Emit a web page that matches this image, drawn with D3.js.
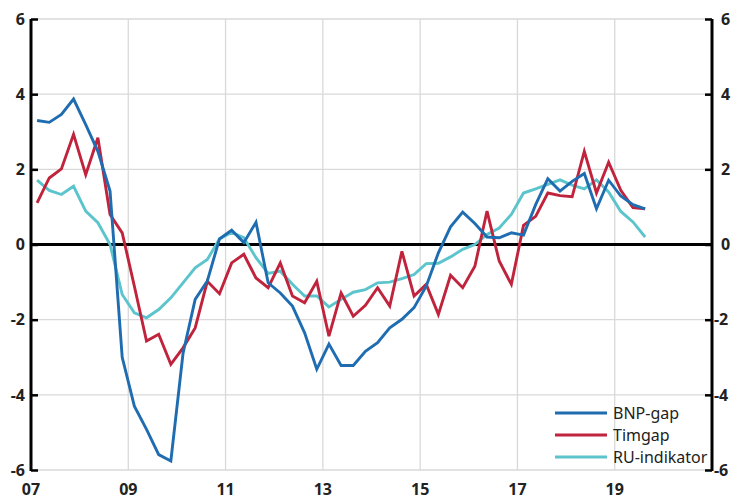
<!DOCTYPE html>
<html>
<head>
<meta charset="utf-8">
<script src="https://cdn.jsdelivr.net/npm/d3@7"></script>
<style>
  html, body { margin: 0; padding: 0; background: #fff; }
  svg { display: block; }
  text { font-family: "Noto Sans", "Open Sans", sans-serif; }
</style>
</head>
<body>
<svg id="chart" width="739" height="501"></svg>
<script>
// Quarterly categories 2007Q1 – 2019Q3
const quarters = [
  "2007Q1","2007Q2","2007Q3","2007Q4","2008Q1","2008Q2","2008Q3","2008Q4",
  "2009Q1","2009Q2","2009Q3","2009Q4","2010Q1","2010Q2","2010Q3","2010Q4",
  "2011Q1","2011Q2","2011Q3","2011Q4","2012Q1","2012Q2","2012Q3","2012Q4",
  "2013Q1","2013Q2","2013Q3","2013Q4","2014Q1","2014Q2","2014Q3","2014Q4",
  "2015Q1","2015Q2","2015Q3","2015Q4","2016Q1","2016Q2","2016Q3","2016Q4",
  "2017Q1","2017Q2","2017Q3","2017Q4","2018Q1","2018Q2","2018Q3","2018Q4",
  "2019Q1","2019Q2","2019Q3"
];

const bnpGap = [
  3.30, 3.25, 3.46, 3.87, 3.19, 2.48, 1.42, -3.00,
  -4.30, -4.92, -5.59, -5.76, -2.90, -1.46, -0.97, 0.15,
  0.38, 0.05, 0.59, -1.02, -1.29, -1.64, -2.35, -3.32,
  -2.65, -3.22, -3.22, -2.84, -2.61, -2.22, -1.99, -1.68,
  -1.11, -0.22, 0.47, 0.86, 0.56, 0.20, 0.18, 0.31,
  0.25, 1.06, 1.75, 1.42, 1.68, 1.89, 0.95, 1.71,
  1.29, 1.06, 0.95
];

const timgap = [
  1.11, 1.77, 2.01, 2.93, 1.86, 2.84, 0.80, 0.31,
  -1.11, -2.57, -2.39, -3.19, -2.75, -2.22, -0.98, -1.31,
  -0.49, -0.26, -0.89, -1.15, -0.49, -1.37, -1.55, -0.98,
  -2.44, -1.29, -1.91, -1.62, -1.15, -1.64, -0.18, -1.37,
  -1.06, -1.86, -0.82, -1.15, -0.58, 0.89, -0.44, -1.06,
  0.51, 0.75, 1.37, 1.30, 1.27, 2.48, 1.37, 2.19,
  1.44, 0.98, 0.95
];

const ruIndikator = [
  1.71, 1.44, 1.33, 1.55, 0.89, 0.58, 0.00, -1.33,
  -1.82, -1.95, -1.73, -1.42, -1.02, -0.62, -0.40, 0.15,
  0.32, 0.18, -0.35, -0.77, -0.71, -1.06, -1.37, -1.37,
  -1.66, -1.46, -1.27, -1.20, -1.02, -1.00, -0.91, -0.80,
  -0.51, -0.50, -0.33, -0.13, 0.00, 0.27, 0.44, 0.80,
  1.37, 1.48, 1.60, 1.72, 1.58, 1.48, 1.72, 1.40,
  0.88, 0.60, 0.20
];

const seriesNames = ["BNP-gap", "Timgap", "RU-indikator"];
const seriesColors = ["#1f6db0", "#c0233c", "#5cc4cc"];
const xTickYears = [2007, 2009, 2011, 2013, 2015, 2017, 2019];
const xTickLabels = ["07", "09", "11", "13", "15", "17", "19"];
const yTicks = [-6, -4, -2, 0, 2, 4, 6];

// ---- layout ----
const svg = d3.select("#chart");
const pL = 31, pR = 712, pT = 19, pB = 470;

const x = d3.scaleLinear().domain([2007, 2021]).range([pL, pR]);
const y = d3.scaleLinear().domain([-6, 6]).range([pB, pT]);

// quarter position (mid-quarter)
const qx = q => {
  const yr = +q.slice(0, 4), k = +q.slice(5);
  return yr + (k - 0.5) / 4;
};

// grid
const grid = svg.append("g");
grid.selectAll("line.h").data(yTicks.filter(d => d !== 0)).enter().append("line")
  .attr("x1", pL).attr("x2", pR)
  .attr("y1", d => y(d)).attr("y2", d => y(d))
  .attr("stroke", "#d9d9d9").attr("stroke-width", 1.3);
grid.selectAll("line.v").data(xTickYears.slice(1)).enter().append("line")
  .attr("x1", d => x(d)).attr("x2", d => x(d))
  .attr("y1", pT).attr("y2", pB)
  .attr("stroke", "#d9d9d9").attr("stroke-width", 1.3);

// zero line
svg.append("line")
  .attr("x1", pL).attr("x2", pR)
  .attr("y1", y(0)).attr("y2", y(0))
  .attr("stroke", "#000").attr("stroke-width", 3);

// series lines
const allSeries = [bnpGap, timgap, ruIndikator];
const line = d3.line()
  .x((d, i) => x(qx(quarters[i])))
  .y(d => y(d));

const drawOrder = [2, 1, 0];
drawOrder.forEach(s => {
  svg.append("path")
    .datum(allSeries[s])
    .attr("d", line)
    .attr("fill", "none")
    .attr("stroke", seriesColors[s])
    .attr("stroke-width", 2.9)
    .attr("stroke-linejoin", "miter");
});

// axes (left & right) with inward ticks
const yAxisL = d3.axisLeft(y).tickValues(yTicks).tickSize(-7).tickFormat("");
const gL = svg.append("g").attr("transform", `translate(${pL},0)`).call(yAxisL);
const yAxisR = d3.axisRight(y).tickValues(yTicks).tickSize(-7).tickFormat("");
const gR = svg.append("g").attr("transform", `translate(${pR},0)`).call(yAxisR);
[gL, gR].forEach(g => {
  g.select(".domain").attr("stroke", "#000").attr("stroke-width", 3)
    .attr("d", `M0,${pT}V${pB + 1}`);
  g.selectAll(".tick line").attr("stroke", "#000").attr("stroke-width", 2.5);
});

// y labels
svg.append("g").selectAll("text").data(yTicks).enter().append("text")
  .attr("x", 25).attr("y", d => y(d)).attr("dy", "0.36em")
  .attr("text-anchor", "end")
  .attr("font-size", 16).attr("font-weight", "bold").attr("fill", "#222")
  .text(d => d);
svg.append("g").selectAll("text").data(yTicks).enter().append("text")
  .attr("x", d => d < 0 ? 714 : 721).attr("y", d => y(d)).attr("dy", "0.36em")
  .attr("text-anchor", "start")
  .attr("font-size", 16).attr("font-weight", "bold").attr("fill", "#222")
  .text(d => d);

// x labels
svg.append("g").selectAll("text").data(xTickYears).enter().append("text")
  .attr("x", d => x(d)).attr("y", 495)
  .attr("text-anchor", "middle")
  .attr("font-size", 16).attr("font-weight", "bold").attr("fill", "#222")
  .text((d, i) => xTickLabels[i]);

// legend
const lg = svg.append("g");
seriesNames.forEach((name, i) => {
  const ly = 413 + i * 22;
  lg.append("line").attr("x1", 555).attr("x2", 607)
    .attr("y1", ly).attr("y2", ly)
    .attr("stroke", seriesColors[i]).attr("stroke-width", 3);
  lg.append("text").attr("x", 613).attr("y", ly).attr("dy", "0.36em")
    .attr("font-size", 16).attr("fill", "#222").text(name);
});
</script>
</body>
</html>
